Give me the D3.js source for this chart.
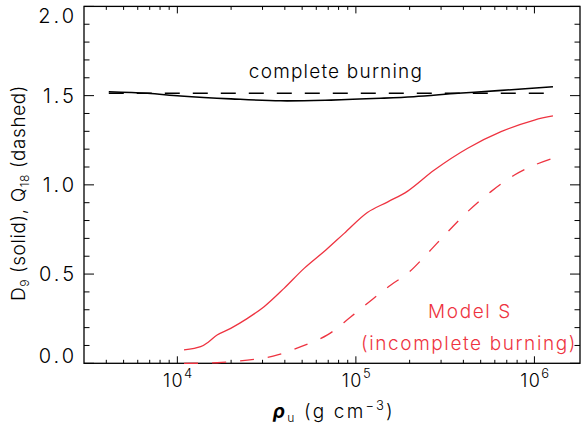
<!DOCTYPE html>
<html>
<head>
<meta charset="utf-8">
<script src="https://cdn.jsdelivr.net/npm/d3@7"></script>
<style>
  body { margin: 0; background: #fff; }
  svg { display: block; }
  text { font-family: Inter, "Liberation Sans", Arial, sans-serif; font-weight: 300; }
</style>
</head>
<body>
<svg id="chart" width="587" height="430"></svg>
<script>
// Upstream density (g cm^-3) and burning diagnostics
const rhoComplete = [4130, 6800, 10430, 20000, 37900, 72400, 138000, 211000, 373000, 626000, 1270000];
const dComplete   = [1.522, 1.513, 1.498, 1.482, 1.471, 1.475, 1.485, 1.494, 1.513, 1.528, 1.55];
const rhoCompleteQ = [4130, 1270000];
const qComplete    = [1.513, 1.513];

const rhoModelD = [10900, 13500, 15000, 16700, 19900, 24700, 30600, 39600, 51300, 67900, 86000,
                   116000, 151000, 195000, 275000, 423000, 650000, 1000000, 1270000];
const dModel    = [0.075, 0.093, 0.121, 0.159, 0.196, 0.252, 0.317, 0.42, 0.532, 0.635, 0.728,
                   0.845, 0.905, 0.965, 1.083, 1.205, 1.298, 1.363, 1.386];

const rhoModelQ = [10900, 16700, 24700, 34800, 49200, 69300, 93800, 124000, 157000, 195000,
                   252000, 327000, 423000, 571000, 773000, 1000000, 1270000];
const qModel    = [0, 0.003, 0.018, 0.041, 0.093, 0.159, 0.261, 0.359, 0.439, 0.504,
                   0.616, 0.737, 0.85, 0.962, 1.055, 1.111, 1.149];

const yTicks = [0, 0.5, 1.0, 1.5, 2.0];
const xDecades = [4, 5, 6];

const red = "#ee3340";
const svg = d3.select("#chart");
const L = 84, R = 580, T = 6.4, B = 363.3;

const x = d3.scaleLog().domain([3000, 1.8e6]).range([L, R]);
const y = d3.scaleLinear().domain([0, 2]).range([B, T]);

// frame
svg.append("rect").attr("x", L).attr("y", T).attr("width", R - L).attr("height", B - T)
  .attr("fill", "none").attr("stroke", "#000").attr("stroke-width", 1.3);

// major/minor ticks on all four sides
const yMinor = d3.range(0, 2.0001, 0.1);
const xMinor = [];
for (let e = 3; e <= 6; e++) for (let m = 1; m <= 9; m++) {
  const v = m * Math.pow(10, e);
  if (v > 3000 && v < 1.8e6) xMinor.push(v);
}
const isMajorY = v => Math.abs(v * 2 - Math.round(v * 2)) < 1e-6;
const isMajorX = v => Math.abs(Math.log10(v) - Math.round(Math.log10(v))) < 1e-6;

const ticks = svg.append("g").attr("stroke", "#000").attr("stroke-width", 1);
yMinor.forEach(v => {
  const len = isMajorY(v) ? 10 : 5.5;
  ticks.append("line").attr("x1", L).attr("x2", L + len).attr("y1", y(v)).attr("y2", y(v));
  ticks.append("line").attr("x1", R).attr("x2", R - len).attr("y1", y(v)).attr("y2", y(v));
});
xMinor.forEach(v => {
  const len = isMajorX(v) ? 7 : 3.5;
  ticks.append("line").attr("x1", x(v)).attr("x2", x(v)).attr("y1", B).attr("y2", B - len);
  ticks.append("line").attr("x1", x(v)).attr("x2", x(v)).attr("y1", T).attr("y2", T + len);
});

// y tick labels
svg.append("g").selectAll("text").data(yTicks).join("text")
  .attr("x", 77).attr("y", d => Math.min(Math.max(y(d), T + 9), B - 8))
  .attr("dy", "0.36em").attr("text-anchor", "end")
  .attr("font-size", 20).attr("letter-spacing", 3).attr("fill", "#000")
  .text(d => d.toFixed(1));

// x tick labels 10^n
const xl = svg.append("g").selectAll("text").data(xDecades).join("text")
  .attr("x", d => x(Math.pow(10, d)) + 1).attr("y", 387)
  .attr("text-anchor", "middle").attr("font-size", 18).attr("letter-spacing", 1.5).attr("fill", "#000");
xl.append("tspan").text("10");
xl.append("tspan").attr("dy", -9).attr("font-size", 13).text(d => d);

// x axis title
const xt = svg.append("text").attr("x", 334).attr("y", 418).attr("text-anchor", "middle")
  .attr("font-size", 19).attr("letter-spacing", 2.2).attr("fill", "#000");
xt.append("tspan").attr("font-weight", "bold").attr("font-style", "italic").text("ρ");
xt.append("tspan").attr("dy", 4).attr("font-size", 12).text("u");
xt.append("tspan").attr("dy", -4).text(" (g cm");
xt.append("tspan").attr("dy", -8).attr("font-size", 13).text("−3");
xt.append("tspan").attr("dy", 8).text(")");

// y axis title
const yt = svg.append("text").attr("transform", "translate(25,193) rotate(-90)")
  .attr("text-anchor", "middle").attr("font-size", 19).attr("letter-spacing", 0.6).attr("fill", "#000");
yt.append("tspan").text("D");
yt.append("tspan").attr("dy", 4).attr("font-size", 12).text("9");
yt.append("tspan").attr("dy", -4).text(" (solid), Q");
yt.append("tspan").attr("dy", 4).attr("font-size", 12).text("18");
yt.append("tspan").attr("dy", -4).text(" (dashed)");

// curves
const line = d3.line().x(d => x(d[0])).y(d => y(d[1])).curve(d3.curveCatmullRom.alpha(0.5));
const zip = (a, b) => a.map((v, i) => [v, b[i]]);

svg.append("path").attr("d", line(zip(rhoCompleteQ, qComplete)))
  .attr("fill", "none").attr("stroke", "#000").attr("stroke-width", 1.4).attr("stroke-dasharray", "15,13");
svg.append("path").attr("d", line(zip(rhoComplete, dComplete)))
  .attr("fill", "none").attr("stroke", "#000").attr("stroke-width", 1.6);
svg.append("path").attr("d", line(zip(rhoModelD, dModel)))
  .attr("fill", "none").attr("stroke", red).attr("stroke-width", 1.3);
svg.append("path").attr("d", line(zip(rhoModelQ, qModel)))
  .attr("fill", "none").attr("stroke", red).attr("stroke-width", 1.3).attr("stroke-dasharray", "14,14");

// annotations
svg.append("text").attr("x", 336).attr("y", 78.3).attr("text-anchor", "middle")
  .attr("font-size", 19).attr("letter-spacing", 1.2).attr("fill", "#000").text("complete burning");
svg.append("text").attr("x", 470).attr("y", 318).attr("text-anchor", "middle")
  .attr("font-size", 19).attr("letter-spacing", 1.6).attr("fill", red).text("Model S");
svg.append("text").attr("x", 469).attr("y", 350).attr("text-anchor", "middle")
  .attr("font-size", 19).attr("letter-spacing", 1.6).attr("fill", red).text("(incomplete burning)");
</script>
</body>
</html>
